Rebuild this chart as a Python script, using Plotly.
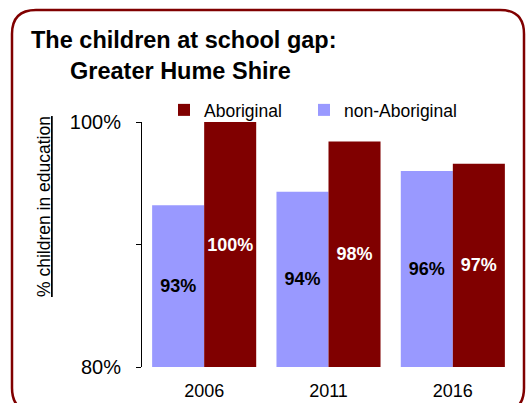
import plotly.graph_objects as go

years = ["2006", "2011", "2016"]
non_aboriginal = [93.2, 94.3, 96.0]
aboriginal = [100.0, 98.4, 96.6]
axis_floor = 80
ytick_vals = [80, 90, 100]
ytick_text = ["80%", "", "100%"]

W, H = 531, 403
L, R, T, B = 142, 16, 122, 36
pw, ph = W - L - R, H - T - B

def px_x(x):
    return (x - L) / pw

def px_y(y):
    return (H - B - y) / ph

FONT = "Liberation Sans, Arial, sans-serif"
DARK = "#800000"
LIGHT = "#9999FF"

fig = go.Figure()
for name, vals, color, tcolor, leg in [
    ("non-Aboriginal", non_aboriginal, LIGHT, "black", "legend2"),
    ("Aboriginal", aboriginal, DARK, "white", "legend"),
]:
    fig.add_trace(go.Bar(
        x=years, y=[v - axis_floor for v in vals], base=axis_floor, name=name,
        customdata=vals, legend=leg,
        marker=dict(color=color, line=dict(width=0)),
        texttemplate="%{customdata:.0f}%", textposition="inside", insidetextanchor="middle",
        textangle=0, constraintext="none",
        textfont=dict(family=FONT, size=18, color=tcolor, weight="bold"),
        hoverinfo="skip",
    ))

r = 24
rx, ry = r / pw, r / ph
x0, x1 = px_x(12), px_x(524)
y0, y1 = px_y(412), px_y(10)
path = (
    f"M{x0 + rx},{y1} L{x1 - rx},{y1} Q{x1},{y1} {x1},{y1 - ry} "
    f"L{x1},{y0 + ry} Q{x1},{y0} {x1 - rx},{y0} "
    f"L{x0 + rx},{y0} Q{x0},{y0} {x0},{y0 + ry} "
    f"L{x0},{y1 - ry} Q{x0},{y1} {x0 + rx},{y1} Z"
)

legend_common = dict(
    orientation="h", yanchor="middle", xanchor="left",
    font=dict(family=FONT, size=17.5, color="black"), bgcolor="rgba(0,0,0,0)",
)

fig.update_layout(
    width=W, height=H,
    margin=dict(l=L, r=R, t=T, b=B, autoexpand=False),
    paper_bgcolor="white", plot_bgcolor="white",
    barmode="group", bargap=0.163, bargroupgap=0,
    font=dict(family=FONT, color="black"),
    showlegend=True,
    legend=dict(x=px_x(164), y=px_y(110), **legend_common),
    legend2=dict(x=px_x(304), y=px_y(110), **legend_common),
    xaxis=dict(
        showline=False, ticks="", tickfont=dict(family=FONT, size=18, color="black"),
        ticklabelstandoff=11,
    ),
    yaxis=dict(
        range=[80, 100], tickvals=ytick_vals, ticktext=ytick_text,
        showline=True, linecolor="black", linewidth=1,
        ticks="outside", ticklen=5, tickcolor="black",
        showgrid=False, zeroline=False,
        tickfont=dict(family=FONT, size=20, color="black"),
        ticklabelstandoff=11,
    ),
    shapes=[dict(type="path", xref="paper", yref="paper", path=path,
                 line=dict(color=DARK, width=2.5), fillcolor="rgba(0,0,0,0)", layer="above")],
    annotations=[
        dict(text="<b>The children at school gap:</b>", xref="paper", yref="paper",
             x=px_x(29), y=px_y(40), xanchor="left", yanchor="middle", showarrow=False,
             font=dict(family=FONT, size=23.5, color="black")),
        dict(text="<b>Greater Hume Shire</b>", xref="paper", yref="paper",
             x=px_x(68), y=px_y(71), xanchor="left", yanchor="middle", showarrow=False,
             font=dict(family=FONT, size=23.5, color="black")),
        dict(text="<u>% children in education</u>", xref="paper", yref="paper",
             x=px_x(44), y=px_y(207), xanchor="center", yanchor="middle", showarrow=False,
             textangle=-90, font=dict(family=FONT, size=17.5, color="black")),
    ],
)

fig.write_html("out.html", config={"displayModeBar": False},
               post_script="document.body.style.margin='0px';")
